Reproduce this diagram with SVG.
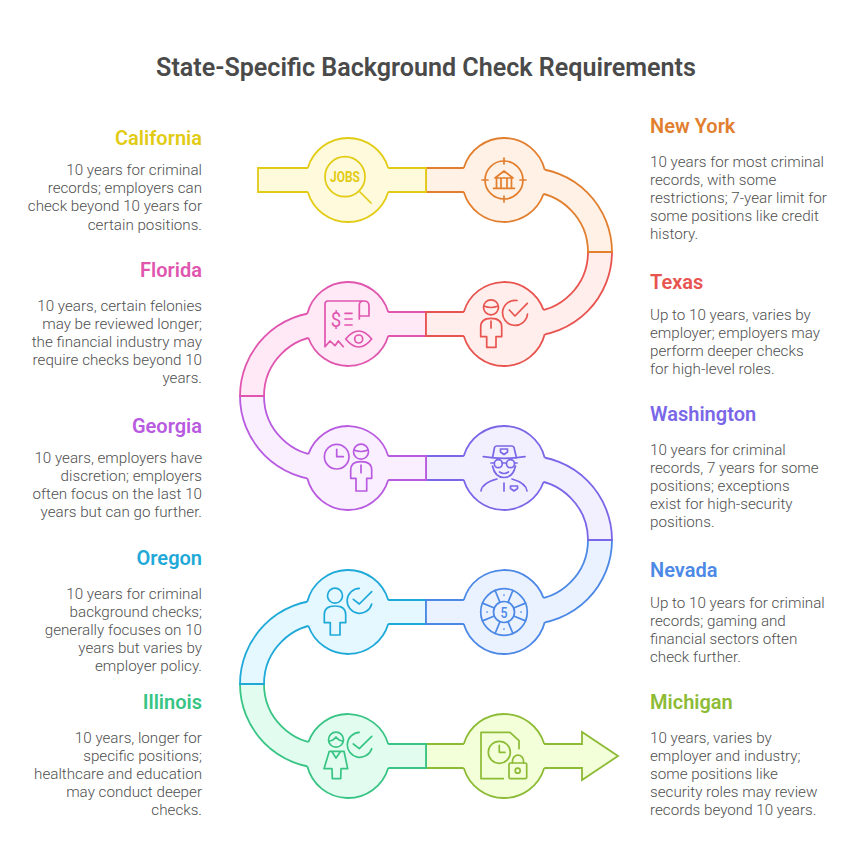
<svg xmlns="http://www.w3.org/2000/svg" width="864" height="848" viewBox="0 0 864 848">
<style>
text{font-family:Roboto,"Liberation Sans",sans-serif}
.title{font-size:25.1px;font-weight:600;fill:#4a4a4a;text-anchor:middle}
.h{font-size:20px;font-weight:600;fill:currentColor}
.b{font-size:15.2px;font-weight:300;fill:#4f4f4f}
.l text{text-anchor:end}
.leg{fill:var(--f);stroke:currentColor;stroke-width:1.8}
.disc{fill:var(--f)}
.ring{fill:none;stroke:currentColor;stroke-width:1.8}
.i{fill:none;stroke:currentColor;stroke-width:1.7;stroke-linecap:round;stroke-linejoin:round}
text.g,.l text.g{font-weight:700;fill:currentColor;text-anchor:middle;stroke:none}
.ca{color:#e2cb14;--f:#fefadb}
.ny{color:#e17f2f;--f:#fff1e5}
.tx{color:#e8544f;--f:#ffeeec}
.fl{color:#e055ae;--f:#ffe9f7}
.ga{color:#b85be0;--f:#faefff}
.wa{color:#7a67e8;--f:#f2f0ff}
.nv{color:#4c88e5;--f:#eaf2ff}
.or{color:#1fa9d9;--f:#e5f8ff}
.il{color:#38c484;--f:#e2fdf0}
.mi{color:#8dbb36;--f:#f2ffd9}
</style>
<text class="title" x="426" y="75.500">State-Specific Background Check Requirements</text>
<g id="connectors">
<path class="leg mi" d="M426 744H582V732L618 756L582 780V768H426Z"/>
<path class="leg il" d="M348 744H426V768H348ZM240 684A84 84 0 0 0 324 768V744A60 60 0 0 1 264 684Z"/>
<path class="leg or" d="M348 600H426V624H348ZM324 600A84 84 0 0 0 240 684H264A60 60 0 0 1 324 624Z"/>
<path class="leg nv" d="M426 600H504V624H426ZM612 540A84 84 0 0 1 528 624V600A60 60 0 0 0 588 540Z"/>
<path class="leg wa" d="M426 456H504V480H426ZM528 456A84 84 0 0 1 612 540H588A60 60 0 0 0 528 480Z"/>
<path class="leg ga" d="M348 456H426V480H348ZM240 396A84 84 0 0 0 324 480V456A60 60 0 0 1 264 396Z"/>
<path class="leg fl" d="M348 312H426V336H348ZM324 312A84 84 0 0 0 240 396H264A60 60 0 0 1 324 336Z"/>
<path class="leg tx" d="M426 312H504V336H426ZM612 252A84 84 0 0 1 528 336V312A60 60 0 0 0 588 252Z"/>
<path class="leg ny" d="M426 168H504V192H426ZM528 168A84 84 0 0 1 612 252H588A60 60 0 0 0 528 192Z"/>
<path class="leg ca" d="M258 168H426V192H258Z"/>
</g>
<g id="california" class="ca l">
<circle class="disc" cx="348" cy="180" r="42"/>
<path class="ring" d="M307.75 168A42 42 0 0 1 388.25 168M388.25 192A42 42 0 0 1 307.75 192"/>
<circle class="i" cx="345" cy="176.7" r="20"/><path class="i" d="M360 192L371 203"/>
<text class="g" x="345" y="182" font-size="14" textLength="30" lengthAdjust="spacingAndGlyphs">JOBS</text>
<text class="h" x="202" y="145">California</text>
<text class="b" x="202" y="175">10 years for criminal</text><text class="b" x="202" y="193">records; employers can</text><text class="b" x="202" y="211">check beyond 10 years for</text><text class="b" x="202" y="229.500">certain positions.</text>
</g>
<g id="new-york" class="ny">
<circle class="disc" cx="504" cy="180" r="42"/>
<path class="ring" d="M463.75 168A42 42 0 0 1 544.71 169.68M543.57 194.05A42 42 0 0 1 463.75 192"/>
<circle class="i" cx="504" cy="180" r="19"/>
<path class="i" d="M504 158V164M504 196V202M482 180H488M520 180H526M495 178L504 171L513 178ZM496.500 178V187M501 178V187M507 178V187M511.500 178V187M493.500 188.300H514.500"/>
<text class="h" x="650" y="133">New York</text>
<text class="b" x="650" y="167">10 years for most criminal</text><text class="b" x="650" y="185">records, with some</text><text class="b" x="650" y="203">restrictions; 7-year limit for</text><text class="b" x="650" y="221">some positions like credit</text><text class="b" x="650" y="239">history.</text>
</g>
<g id="texas" class="tx">
<circle class="disc" cx="504" cy="324" r="42"/>
<path class="ring" d="M463.75 312A42 42 0 0 1 543.57 309.95M544.71 334.32A42 42 0 0 1 463.75 336"/>
<circle class="i" cx="491" cy="307.300" r="7.500"/><path class="i" d="M484 306Q491 309 498 306M486.700 347.300V336.700H480.700V327Q480.700 318.300 491 318.300Q501.700 318.300 501.700 327V336.700H496V347.300ZM491 321V328M517 300.500A12.500 12.500 0 1 0 527.500 314M509.300 310L515 316L527.300 303.300"/>
<text class="h" x="650" y="289">Texas</text>
<text class="b" x="650" y="319.500">Up to 10 years, varies by</text><text class="b" x="650" y="337.500">employer; employers may</text><text class="b" x="650" y="355.500">perform deeper checks</text><text class="b" x="650" y="373.500">for high-level roles.</text>
</g>
<g id="florida" class="fl l">
<circle class="disc" cx="348" cy="324" r="42"/>
<path class="ring" d="M307.29 313.68A42 42 0 0 1 388.25 312M388.25 336A42 42 0 0 1 308.43 338.05"/>
<path class="i" d="M325 346.700V304Q325 301 328 301H364Q369 301 369 306V316H359.300M359.300 319V305Q359.300 301 364 301M325 346.700L330 341L335 345.700L338.300 341L343.300 346.700M345 313.300H352M345 319H352M345 325H352M345.700 339Q358.700 323 371.700 339Q358.700 355 345.700 339Z"/>
<circle class="i" cx="358.700" cy="339" r="4"/>
<text class="g" x="336" y="326.500" font-size="21" textLength="10.500" lengthAdjust="spacingAndGlyphs" style="font-weight:400">$</text>
<text class="h" x="202" y="277">Florida</text>
<text class="b" x="202" y="311">10 years, certain felonies</text><text class="b" x="202" y="329">may be reviewed longer;</text><text class="b" x="202" y="347">the financial industry may</text><text class="b" x="202" y="365">require checks beyond 10</text><text class="b" x="202" y="383">years.</text>
</g>
<g id="georgia" class="ga l">
<circle class="disc" cx="348" cy="468" r="42"/>
<path class="ring" d="M308.43 453.95A42 42 0 0 1 388.25 456M388.25 480A42 42 0 0 1 307.29 478.32"/>
<circle class="i" cx="336.700" cy="456.700" r="12.300"/><circle class="i" cx="361" cy="451.700" r="7.500"/>
<path class="i" d="M336.700 449.300V456.700H343.300M354 450Q361 453 368 450M356 491V478.300H350.700V470Q350.700 461.700 361 461.700Q371.700 461.700 371.700 470V478.300H366.700V491ZM361 465V472.700"/>
<text class="h" x="202" y="433">Georgia</text>
<text class="b" x="202" y="463">10 years, employers have</text><text class="b" x="202" y="481">discretion; employers</text><text class="b" x="202" y="499">often focus on the last 10</text><text class="b" x="202" y="517">years but can go further.</text>
</g>
<g id="washington" class="wa">
<circle class="disc" cx="504" cy="468" r="42"/>
<path class="ring" d="M463.75 456A42 42 0 0 1 544.71 457.68M543.57 482.05A42 42 0 0 1 463.75 480"/>
<path class="i" d="M483.300 456.700Q504 460 525 456.700M492.500 458L494.500 447.500Q495 446 497 446H511.500Q513.500 446 514 447.500L516.500 458M500.500 449H507.500V452L504 454.500L500.500 452ZM492.500 466Q495 477.500 504 477.500Q513 477.500 515.500 466M499.500 472Q504 475 508.500 472M481 491Q482 483 497 479M512 479Q526 483 527 491M504 483V491M510.500 486H517.500V488.500L514 491L510.500 488.500ZM502.300 463H505.700M491 463H494.300M515 463H517"/>
<circle class="i" cx="498.300" cy="463.700" r="4"/><circle class="i" cx="510.500" cy="463.700" r="4"/>
<text class="h" x="650" y="421">Washington</text>
<text class="b" x="650" y="455">10 years for criminal</text><text class="b" x="650" y="473">records, 7 years for some</text><text class="b" x="650" y="491">positions; exceptions</text><text class="b" x="650" y="509">exist for high-security</text><text class="b" x="650" y="527">positions.</text>
</g>
<g id="nevada" class="nv">
<circle class="disc" cx="504" cy="612" r="42"/>
<path class="ring" d="M463.75 600A42 42 0 0 1 543.57 597.95M544.71 622.32A42 42 0 0 1 463.75 624"/>
<circle class="i" cx="504" cy="612" r="23.300"/><circle class="i" cx="504" cy="612" r="10.500"/>
<path class="i" d="M500 602.300L495.100 590.500M508 602.300L512.900 590.500M513.700 608L525.500 603.100M513.700 616L525.500 620.900M508 621.700L512.900 633.500M500 621.700L495.100 633.500M494.300 616L482.500 620.900M494.300 608L482.500 603.100M504 595V595.100M504 629V629.100M487 612H487.100M521 612H521.100"/>
<text class="g" x="504" y="617.500" font-size="15" textLength="7" lengthAdjust="spacingAndGlyphs" style="font-weight:500">5</text>
<text class="h" x="650" y="577">Nevada</text>
<text class="b" x="650" y="607.500">Up to 10 years for criminal</text><text class="b" x="650" y="625.500">records; gaming and</text><text class="b" x="650" y="643.500">financial sectors often</text><text class="b" x="650" y="661.500">check further.</text>
</g>
<g id="oregon" class="or l">
<circle class="disc" cx="348" cy="612" r="42"/>
<path class="ring" d="M307.29 601.68A42 42 0 0 1 388.25 600M388.25 624A42 42 0 0 1 308.43 626.05"/>
<circle class="i" cx="335" cy="595.700" r="7.500"/>
<path class="i" d="M330.300 635V622.700H324.300V614.500Q324.300 606 335 606Q345.700 606 345.700 614.500V622.700H340V635ZM359.300 588.300A12.500 12.500 0 1 0 371.700 604M353.300 599.300L359.300 604L371.700 591.700"/>
<text class="h" x="202" y="565">Oregon</text>
<text class="b" x="202" y="599">10 years for criminal</text><text class="b" x="202" y="617">background checks;</text><text class="b" x="202" y="635">generally focuses on 10</text><text class="b" x="202" y="653">years but varies by</text><text class="b" x="202" y="671">employer policy.</text>
</g>
<g id="illinois" class="il l">
<circle class="disc" cx="348" cy="756" r="42"/>
<path class="ring" d="M308.43 741.95A42 42 0 0 1 388.25 744M388.25 768A42 42 0 0 1 307.29 766.32"/>
<circle class="i" cx="336" cy="739.700" r="7.500"/>
<path class="i" d="M329 741Q333 741 336 737Q339 741 343 741M329.300 751.300H344L347.700 768.700H341L340.700 778.700H332.300L332 768.700H324ZM331.700 751.300L336 758L340.700 751.300M359.300 732.300A12.500 12.500 0 1 0 371.700 748.700M353.300 744L359.300 748.700L371.700 736.300"/>
<text class="h" x="202" y="709">Illinois</text>
<text class="b" x="202" y="743">10 years, longer for</text><text class="b" x="202" y="761">specific positions;</text><text class="b" x="202" y="779">healthcare and education</text><text class="b" x="202" y="797">may conduct deeper</text><text class="b" x="202" y="815">checks.</text>
</g>
<g id="michigan" class="mi">
<circle class="disc" cx="504" cy="756" r="42"/>
<path class="ring" d="M463.75 744A42 42 0 0 1 544.25 744M544.25 768A42 42 0 0 1 463.75 768"/>
<circle class="i" cx="499.300" cy="752.300" r="11"/>
<path class="i" d="M503.300 778.700H481V732.300H510L519 740.700V748.700M499.300 745.300V752.300H505M512.500 763V760.700A5.500 5.500 0 0 1 523.500 760.700V763"/>
<rect class="i" x="509" y="763" width="17.700" height="15.700" rx="1.500"/><circle class="i" cx="517.700" cy="770.700" r="2.500"/>
<text class="h" x="650" y="709">Michigan</text>
<text class="b" x="650" y="743">10 years, varies by</text><text class="b" x="650" y="761">employer and industry;</text><text class="b" x="650" y="779">some positions like</text><text class="b" x="650" y="797">security roles may review</text><text class="b" x="650" y="815">records beyond 10 years.</text>
</g>
</svg>
